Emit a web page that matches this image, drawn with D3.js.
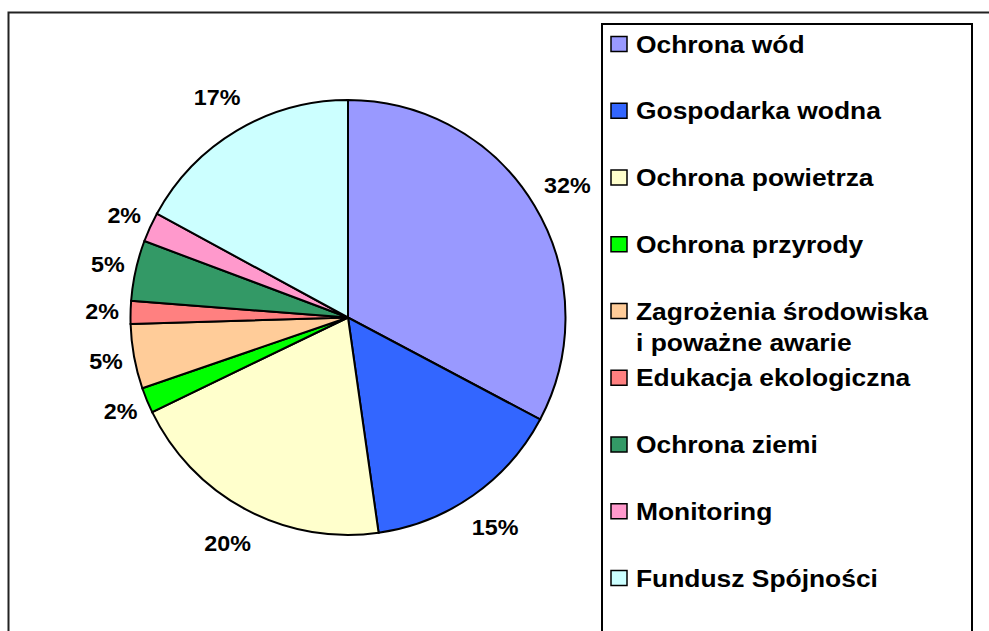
<!DOCTYPE html>
<html lang="pl">
<head>
    <meta charset="UTF-8">
    <title>Struktura wydatków</title>
    <script src="https://cdn.jsdelivr.net/npm/d3@7"></script>
    <style>
        body { margin: 0; background: #fff; }
        svg { display: block; }
        .slice { stroke: #000; stroke-width: 2px; }
        .pct, .leg { font-family: "Liberation Sans", Arial, sans-serif; font-weight: bold; fill: #000; }
        .pct { font-size: 22px; }
        .leg { font-size: 24px; }
    </style>
</head>
<body>
<svg width="989" height="631"></svg>

<script>
    // dane
    var categories = ['Ochrona wód', 'Gospodarka wodna', 'Ochrona powietrza', 'Ochrona przyrody',
        'Zagrożenia środowiska\ni poważne awarie', 'Edukacja ekologiczna', 'Ochrona ziemi',
        'Monitoring', 'Fundusz Spójności'];
    var values = [32.8, 15.0, 20.1, 1.9, 4.8, 1.7, 4.5, 2.2, 17.1];
    var pctLabels = ['32%', '15%', '20%', '2%', '5%', '2%', '5%', '2%', '17%'];
    var colors = ['#9999ff', '#3366ff', '#ffffcc', '#00ff00', '#ffcc99', '#ff8080', '#339966', '#ff99cc', '#ccffff'];

    var svg = d3.select('svg');

    // ramka wykresu (wychodzi poza kadr z prawej i u dołu)
    svg.append('rect')
        .attr('x', 8.5).attr('y', 12.5)
        .attr('width', 1000).attr('height', 700)
        .attr('fill', 'none').attr('stroke', '#222').attr('stroke-width', 2);

    var cx = 348, cy = 317.5, r = 217.5;

    var pie = d3.pie().sort(null).value(function (d) { return d; });
    var arcs = pie(values);
    var arc = d3.arc().innerRadius(0).outerRadius(r);

    var g = svg.append('g').attr('transform', 'translate(' + cx + ',' + cy + ')');

    g.selectAll('.slice')
        .data(arcs)
        .enter()
        .append('path')
        .attr('class', 'slice')
        .attr('d', arc)
        .attr('fill', function (d, i) { return colors[i]; });

    g.selectAll('.pct')
        .data(arcs)
        .enter()
        .append('text')
        .attr('class', 'pct')
        .attr('text-anchor', 'middle')
        .attr('dy', '0.35em')
        .attr('transform', function (d) {
            var lr = d.value >= 10 ? 256 : 246;
            var p = d3.arc().innerRadius(lr).outerRadius(lr).centroid(d);
            return 'translate(' + p + ') scale(1.06,1)';
        })
        .text(function (d, i) { return pctLabels[i]; });

    // legenda
    var legend = svg.append('g');
    legend.append('rect')
        .attr('x', 602).attr('y', 24)
        .attr('width', 370).attr('height', 640)
        .attr('fill', '#fff').attr('stroke', '#000').attr('stroke-width', 2);

    var ly = d3.scalePoint().domain(d3.range(categories.length)).range([44, 578]);

    var items = legend.selectAll('.item')
        .data(categories)
        .enter()
        .append('g')
        .attr('transform', function (d, i) { return 'translate(0,' + ly(i) + ')'; });

    items.append('rect')
        .attr('x', 611).attr('y', -7.5)
        .attr('width', 16).attr('height', 15)
        .attr('fill', function (d, i) { return colors[i]; })
        .attr('stroke', '#000').attr('stroke-width', 1.5);

    items.each(function (d) {
        var t = d3.select(this).append('text')
            .attr('class', 'leg')
            .attr('transform', 'translate(636,8.5) scale(1.1,1)');
        d.split('\n').forEach(function (line, j) {
            t.append('tspan').attr('x', 0).attr('dy', j ? 32 : 0).text(line);
        });
    });
</script>
</body>
</html>
